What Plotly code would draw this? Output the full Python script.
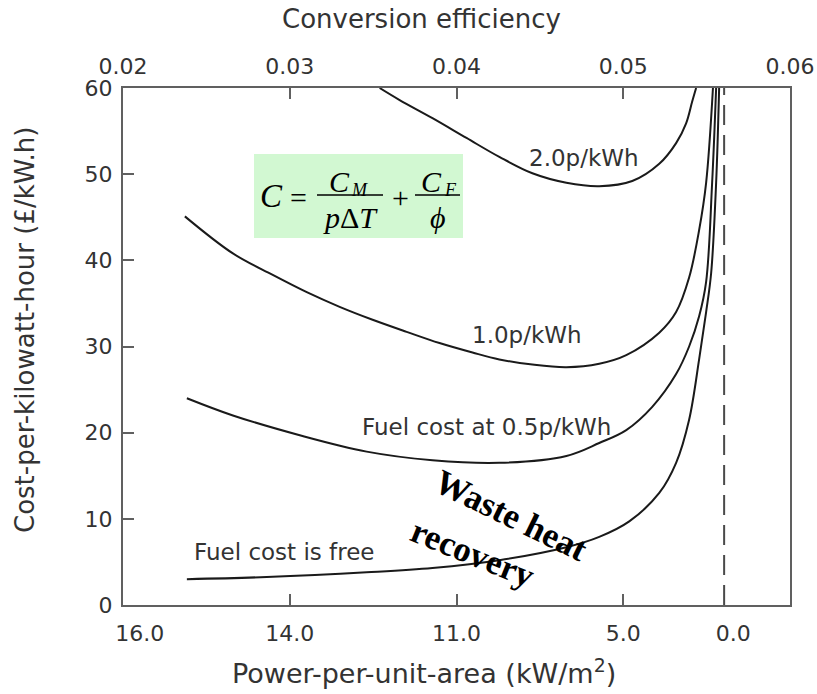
import plotly.graph_objects as go

# ---------------- data ----------------
eff_free = [0.02383, 0.02862, 0.03461, 0.03856, 0.04257, 0.04659, 0.04856, 0.05036,
            0.05216, 0.05317, 0.05395, 0.05455, 0.05497, 0.05527, 0.05557, 0.05575]
cost_free = [3.0, 3.25, 3.8, 4.3, 5.2, 6.7, 7.9, 9.7,
             13.0, 16.5, 21.5, 28.5, 34.0, 38.5, 49.0, 60.0]

eff_05 = [0.02383, 0.02659, 0.03060, 0.03461, 0.03856, 0.04257, 0.04659, 0.04856,
          0.05018, 0.05174, 0.05317, 0.05395, 0.05455, 0.05497, 0.05533, 0.05557]
cost_05 = [24.0, 22.0, 19.7, 17.8, 16.8, 16.5, 17.3, 18.8,
           20.3, 23.0, 26.8, 30.0, 33.5, 37.5, 49.0, 60.0]

eff_10 = [0.02371, 0.02659, 0.02898, 0.03102, 0.03299, 0.03497, 0.03701, 0.03898,
          0.04096, 0.04257, 0.04455, 0.04659, 0.04856, 0.05018, 0.05216, 0.05317,
          0.05395, 0.05455, 0.05497, 0.05538]
cost_10 = [45.1, 40.8, 38.3, 36.3, 34.6, 33.1, 31.7, 30.4,
           29.3, 28.5, 27.9, 27.6, 28.0, 29.0, 31.6, 34.0,
           38.0, 43.5, 49.0, 60.0]

eff_20 = [0.03539, 0.03659, 0.03856, 0.04060, 0.04257, 0.04455, 0.04659, 0.04856,
          0.05054, 0.05216, 0.05317, 0.05377, 0.05413, 0.05437]
cost_20 = [60.0, 58.6, 56.5, 54.2, 52.0, 50.1, 49.0, 48.6,
           49.2, 51.2, 53.6, 55.9, 58.4, 60.0]

limit_eff = 0.05605          # dashed vertical line (zero power)
cost_range = [0, 60]

eff_ticks = [0.02, 0.03, 0.04, 0.05, 0.06]
eff_ticktext = ["0.02", "0.03", "0.04", "0.05", "0.06"]
power_tick_eff = [0.021, 0.03, 0.04, 0.05, 0.0566]
power_ticktext = ["16.0", "14.0", "11.0", "5.0", "0.0"]
minor_tick_eff = [0.03, 0.04, 0.05]
cost_ticks = [0, 10, 20, 30, 40, 50, 60]

# ---------------- figure ----------------
LINE = "#1a1a1a"
TXT = "#333333"
AX = "#606060"
SANS = "DejaVu Sans, Arial, sans-serif"
SERIF = "Liberation Serif, Times New Roman, serif"
TICKFONT = dict(family=SANS, size=22, color=TXT)

fig = go.Figure()
for ex, cy in [(eff_free, cost_free), (eff_05, cost_05), (eff_10, cost_10), (eff_20, cost_20)]:
    fig.add_trace(go.Scatter(x=ex, y=cy, mode="lines",
                             line=dict(color=LINE, width=2, shape="spline", smoothing=1.0),
                             hoverinfo="skip", showlegend=False))

fig.add_trace(go.Scatter(x=[limit_eff, limit_eff], y=cost_range, mode="lines",
                         line=dict(color="#4a4a4a", width=2, dash="20px,10px"),
                         hoverinfo="skip", showlegend=False))

# dummy traces to activate the overlay axes
fig.add_trace(go.Scatter(x=eff_free, y=cost_free, xaxis="x2", mode="lines",
                         opacity=0, hoverinfo="skip", showlegend=False))
fig.add_trace(go.Scatter(x=eff_free, y=cost_free, xaxis="x3", mode="lines",
                         opacity=0, hoverinfo="skip", showlegend=False))

xr = [eff_ticks[0], eff_ticks[-1]]
fig.update_layout(
    width=817, height=694,
    margin=dict(l=123, r=27, t=88, b=89),
    paper_bgcolor="white", plot_bgcolor="white",
    xaxis=dict(range=xr, tickmode="array", tickvals=power_tick_eff, ticktext=power_ticktext,
               ticks="", showgrid=False, zeroline=False, automargin=False,
               ticklabelstandoff=8,
               showline=True, linecolor=AX, linewidth=2, tickfont=TICKFONT),
    xaxis3=dict(range=xr, overlaying="x", side="bottom", anchor="y", automargin=False,
                tickmode="array", tickvals=minor_tick_eff, ticks="inside", ticklen=11,
                tickwidth=2, tickcolor=AX, showticklabels=False, showgrid=False,
                zeroline=False, showline=False),
    xaxis2=dict(range=xr, overlaying="x", side="top", anchor="y", automargin=False,
                tickmode="array", tickvals=eff_ticks, ticktext=eff_ticktext,
                ticks="inside", ticklen=11, tickwidth=2, tickcolor=AX,
                ticklabelstandoff=3,
                showgrid=False, zeroline=False, showline=True, linecolor=AX, linewidth=2,
                tickfont=TICKFONT),
    yaxis=dict(range=cost_range, tickmode="array", tickvals=cost_ticks, automargin=False,
               ticks="inside", ticklen=11, tickwidth=2, tickcolor=AX,
               ticklabelstandoff=4,
               showgrid=False, zeroline=False, showline=True, mirror=True,
               linecolor=AX, linewidth=2, tickfont=TICKFONT),
)

def px(x):
    return (x - 123) / 667.0

def py(y):
    return (605 - y) / 517.0

def note(text, x, y, font, angle=0):
    fig.add_annotation(text=text, x=px(x), y=py(y), xref="paper", yref="paper",
                       xanchor="center", yanchor="middle", showarrow=False,
                       textangle=angle, font=font)

# axis titles
note("Conversion efficiency", 421, 19, dict(family=SANS, size=26, color=TXT))
note("Power-per-unit-area (kW/m<sup>2</sup>)", 424, 671, dict(family=SANS, size=27, color=TXT))
note("Cost-per-kilowatt-hour (£/kW.h)", 25, 330, dict(family=SANS, size=26, color=TXT), angle=-90)

labels = [
    ("2.0p/kWh", 584, 158),
    ("1.0p/kWh", 527, 335),
    ("Fuel cost at 0.5p/kWh", 487, 427),
    ("Fuel cost is free", 284, 552),
]
for t, x, y in labels:
    note(t, x, y, dict(family=SANS, size=23, color=TXT))

note("<b>Waste heat</b>", 511, 515, dict(family=SERIF, size=35, color="black"), angle=26)
note("<b>recovery</b>", 473, 553, dict(family=SERIF, size=35, color="black"), angle=22)

# equation box
fig.add_shape(type="rect", xref="paper", yref="paper",
              x0=px(254), x1=px(463), y0=py(238), y1=py(154),
              fillcolor="#d2f8d2", line=dict(width=0), layer="below")
fig.add_shape(type="line", xref="paper", yref="paper",
              x0=px(317), x1=px(383), y0=py(195), y1=py(195), line=dict(color="black", width=1.5))
fig.add_shape(type="line", xref="paper", yref="paper",
              x0=px(415), x1=px(460), y0=py(195), y1=py(195), line=dict(color="black", width=1.5))

EQS = dict(family=SERIF, size=18, color="black")
note("<i>C</i>", 271, 196, dict(family=SERIF, size=33, color="black"))
note("=", 298, 197, dict(family=SERIF, size=30, color="black"))
note("<i>C</i>", 339, 182, dict(family=SERIF, size=30, color="black"))
note("<i>M</i>", 359, 190, EQS)
note("<i>p</i>Δ<i>T</i>", 350, 217, dict(family=SERIF, size=30, color="black"))
note("+", 400, 197, dict(family=SERIF, size=30, color="black"))
note("<i>C</i>", 431, 182, dict(family=SERIF, size=30, color="black"))
note("<i>F</i>", 450, 190, EQS)
note("<i>ϕ</i>", 438, 218, dict(family=SERIF, size=30, color="black"))

fig.write_html("out.html",
               config={"displayModeBar": False},
               post_script="document.body.style.margin='0';document.body.style.padding='0';"
                           "document.body.style.overflow='hidden';")
